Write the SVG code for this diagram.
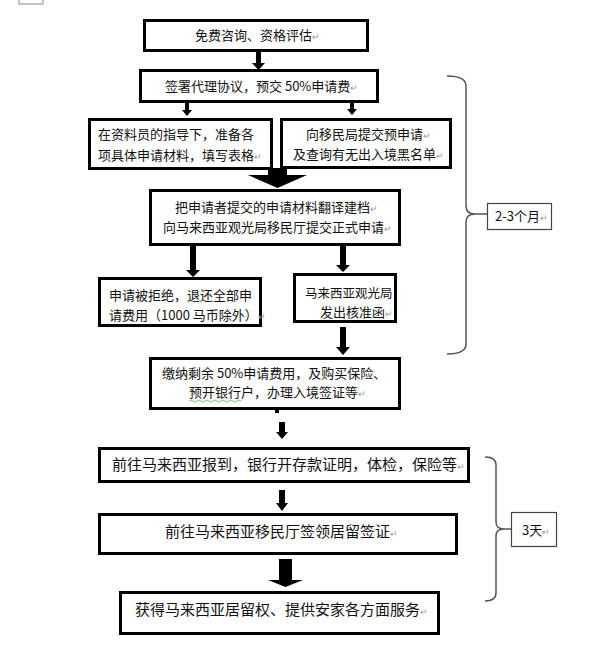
<svg xmlns="http://www.w3.org/2000/svg" width="591" height="651" viewBox="0 0 591 651">
<style>
.box{fill:#fff;stroke:#000;stroke-width:3}
.tbox{fill:#fff;stroke:#444;stroke-width:1.2}
.t{font-family:"Noto Sans CJK SC","Noto Sans",sans-serif;font-size:13px;fill:#111}
.t15{font-family:"Noto Sans CJK SC","Noto Sans",sans-serif;font-size:15px;fill:#111}
.rm{fill:#999;font-size:9px}
.arr{fill:#000}
.brace{fill:none;stroke:#555;stroke-width:1.5}
</style>
<rect width="591" height="651" fill="#fff"/>
<polyline points="19,0 19,4 43,4 43,0" fill="none" stroke="#888" stroke-width="1"/>
<g id="connectors">
<polygon class="arr" points="256,52 261,52 261,63 265,63 258.5,70 252,63 256,63"/>
<polygon class="arr" points="185,103 189,103 189,110 192,110 187,116 182,110 185,110"/>
<polygon class="arr" points="350,103 354,103 354,109 357,109 352,115 347,109 350,109"/>
<polygon class="arr" points="268,168 287,168 287,175 307,175 277.5,188 248,175 268,175"/>
<polygon class="arr" points="190,246 196,246 196,270 200,270 193,277 186,270 190,270"/>
<polygon class="arr" points="340,246 346,246 346,265 350,265 343,272 336,265 340,265"/>
<polygon class="arr" points="340,327 346,327 346,347 350,347 343,355 336,347 340,347"/>
<rect class="arr" x="275" y="410" width="4" height="3"/>
<polygon class="arr" points="279,422 285,422 285,432 288,432 282,439 276,432 279,432"/>
<polygon class="arr" points="279,490 285,490 285,503 288,503 282,511 276,503 279,503"/>
<polygon class="arr" points="279,559 292,559 292,580 303,580 285.5,587 268,580 279,580"/>
<path class="brace" d="M447,76 Q466,76 466,86 L466,206 Q466,214 475,214 Q466,214 466,222 L466,344 Q466,354 447,354"/>
<line x1="475" y1="214" x2="487" y2="214" stroke="#555" stroke-width="1.5"/>
<path class="brace" d="M485,457 Q496,457 496,465 L496,522 Q496,529 504,529 Q496,529 496,536 L496,593 Q496,601 485,601"/>
<line x1="504" y1="529" x2="511" y2="529" stroke="#555" stroke-width="1.5"/>
</g>
<g id="n1"><rect class="box" x="144.5" y="20.5" width="223" height="30"/>
<text class="t" x="195" y="40">免费咨询、资格评估<tspan class="rm">↵</tspan></text></g>
<g id="n2"><rect class="box" x="140.5" y="70.5" width="237" height="31"/>
<text class="t" x="165" y="91">签署代理协议，预交 50%申请费<tspan class="rm">↵</tspan></text></g>
<g id="n3"><rect class="box" x="89.5" y="119.5" width="182" height="49"/>
<text class="t" x="98" y="139">在资料员的指导下，准备各</text>
<text class="t" x="98" y="160">项具体申请材料，填写表格<tspan class="rm">↵</tspan></text></g>
<g id="n4"><rect class="box" x="281.5" y="119.5" width="169" height="48"/>
<text class="t" x="306" y="139">向移民局提交预申请<tspan class="rm">↵</tspan></text>
<text class="t" x="293" y="159">及查询有无出入境黑名单<tspan class="rm">↵</tspan></text></g>
<g id="n5"><rect class="box" x="150.5" y="190.5" width="249" height="54"/>
<text class="t" x="175" y="212">把申请者提交的申请材料翻译建档<tspan class="rm">↵</tspan></text>
<text class="t" x="163" y="232">向马来西亚观光局移民厅提交正式申请<tspan class="rm">↵</tspan></text></g>
<g id="n6"><rect class="box" x="99.5" y="278.5" width="161" height="47"/>
<text class="t" x="109" y="300">申请被拒绝，退还全部申</text>
<text class="t" x="109" y="320">请费用（1000 马币除外）<tspan class="rm">↵</tspan></text></g>
<g id="n7"><rect class="box" x="294.5" y="274.5" width="101" height="47"/>
<text class="t" x="305" y="298" style="font-size:12.5px">马来西亚观光局</text>
<text class="t" x="320" y="317">发出核准函<tspan class="rm">↵</tspan></text></g>
<g id="n8"><rect class="box" x="150.5" y="358.5" width="249" height="50"/>
<text class="t" x="162" y="378">缴纳剩余 50%申请费用，及购买保险、</text>
<text class="t" x="189" y="397">预开银行户，办理入境签证等<tspan class="rm">↵</tspan></text>
<path d="M189,401 q2,-2 4,0 t4,0 t4,0 t4,0 t4,0 t4,0 t4,0 t4,0 t4,0 t4,0 t4,0 t4,0 t4,0" fill="none" stroke="#5a5" stroke-width="0.8"/></g>
<g id="n9"><rect class="box" x="99.5" y="448.5" width="369" height="33"/>
<text class="t15" x="112" y="470">前往马来西亚报到，银行开存款证明，体检，保险等<tspan class="rm">↵</tspan></text></g>
<g id="n10"><rect class="box" x="99.5" y="514.5" width="357" height="39"/>
<text class="t15" x="165" y="537">前往马来西亚移民厅签领居留签证<tspan class="rm">↵</tspan></text></g>
<g id="n11"><rect class="box" x="120.5" y="592.5" width="318" height="41"/>
<text class="t15" x="135" y="615">获得马来西亚居留权、提供安家各方面服务<tspan class="rm">↵</tspan></text></g>
<g id="n12"><rect class="tbox" x="487.5" y="203.5" width="64" height="26"/>
<text class="t" x="495" y="221">2-3个月<tspan class="rm">↵</tspan></text></g>
<g id="n13"><rect class="tbox" x="511.5" y="512.5" width="45" height="34"/>
<text class="t" x="522" y="535">3天<tspan class="rm">↵</tspan></text></g>
</svg>
